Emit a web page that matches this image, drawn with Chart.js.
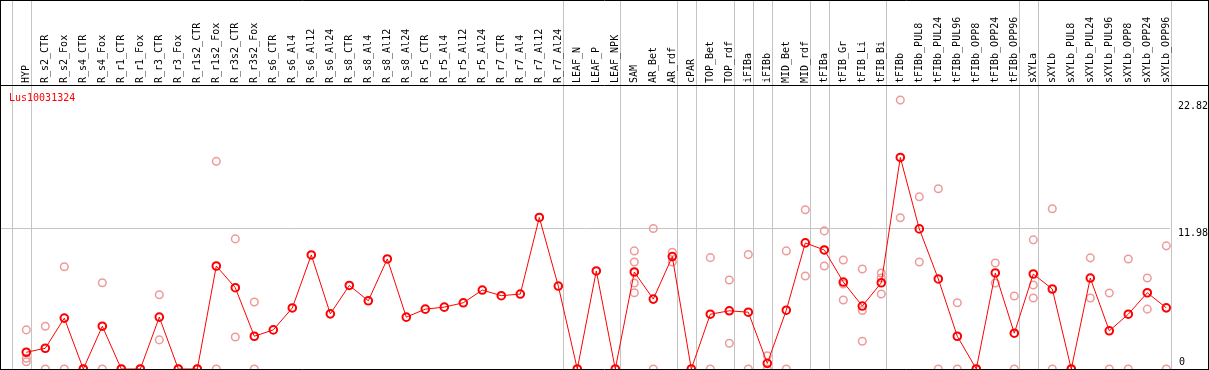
<!DOCTYPE html>
<html>
<head>
<meta charset="utf-8">
<title>Lus10031324</title>
<script src="https://cdn.jsdelivr.net/npm/chart.js@4.4.1/dist/chart.umd.min.js"></script>
<style>
    html, body { margin: 0; padding: 0; background: #fff; }
    #wrap { width: 1209px; height: 370px; }
</style>
</head>
<body>
<div id="wrap"><canvas id="exprChart" width="1209" height="370"></canvas></div>
<script>
// ── Data ─────────────────────────────────────────────────────
const TITLE = 'Lus10031324';

const samples = [
    'HYP','R_s2_CTR','R_s2_Fox','R_s4_CTR','R_s4_Fox','R_r1_CTR','R_r1_Fox','R_r3_CTR','R_r3_Fox',
    'R_r1s2_CTR','R_r1s2_Fox','R_r3s2_CTR','R_r3s2_Fox','R_s6_CTR','R_s6_Al4','R_s6_Al12','R_s6_Al24',
    'R_s8_CTR','R_s8_Al4','R_s8_Al12','R_s8_Al24','R_r5_CTR','R_r5_Al4','R_r5_Al12','R_r5_Al24',
    'R_r7_CTR','R_r7_Al4','R_r7_Al12','R_r7_Al24','LEAF_N','LEAF_P','LEAF_NPK','SAM','AR_Bet','AR_rdf',
    'cPAR','TOP_Bet','TOP_rdf','iFIBa','iFIBb','MID_Bet','MID_rdf','tFIBa','tFIB_Gr','tFIB_Li','tFIB_Bi',
    'tFIBb','tFIBb_PUL8','tFIBb_PUL24','tFIBb_PUL96','tFIBb_OPP8','tFIBb_OPP24','tFIBb_OPP96',
    'sXYLa','sXYLb','sXYLb_PUL8','sXYLb_PUL24','sXYLb_PUL96','sXYLb_OPP8','sXYLb_OPP24','sXYLb_OPP96'
];

// mean expression per sample (red line)
const means = [
    1.42, 1.76, 4.32, 0, 3.63, 0, 0, 4.40, 0,
    0, 8.74, 6.90, 2.78, 3.32, 5.18, 9.68, 4.68,
    7.09, 5.79, 9.34, 4.40, 5.08, 5.25, 5.62, 6.70,
    6.22, 6.36, 12.86, 7.04, 0, 8.32, 0, 8.23, 5.93, 9.54,
    0, 4.65, 4.94, 4.82, 0.48, 4.99, 10.70, 10.10, 7.38, 5.34, 7.32,
    17.95, 11.89, 7.64, 2.78, 0, 8.15, 3.04,
    8.06, 6.79, 0, 7.72, 3.24, 4.65, 6.47, 5.19
];

// single replicates per sample (faint circles)
const replicates = [
    [3.32, 0.91, 0.62], [3.63, 0], [8.68, 0], [0, 0], [7.32, 0], [0, 0], [0, 0], [6.30, 2.47], [0, 0],
    [0, 0], [17.62, 0], [11.04, 2.72], [5.68, 0], [], [], [], [],
    [], [], [], [], [], [], [], [],
    [], [], [], [], [], [], [], [10.02, 9.08, 7.30, 6.47], [11.92, 0], [9.90, 9.08],
    [], [9.45, 0], [7.55, 2.19], [9.71, 0], [1.13, 0], [10.02, 0], [13.51, 7.89], [11.72, 10.10, 8.74],
    [9.25, 7.21, 5.85], [8.49, 4.96, 2.36], [8.15, 7.72, 6.36],
    [22.82, 12.83], [14.62, 9.08], [15.30, 0], [5.62, 0], [0, 0], [9.00, 7.30], [6.19, 0],
    [10.96, 7.13, 6.02], [13.60, 0], [0, 0], [9.43, 6.02], [6.45, 0], [9.34, 0], [7.72, 5.08], [10.45, 0]
];

// group separators: drawn just right of these sample indices
const separatorsAfter = [-1, 0, 28, 31, 34, 35, 37, 38, 39, 41, 42, 45, 52, 53, 60];

// value axis labels on the right
const yTicks    = [22.82, 11.98, 0];
const yGridline = [11.98];

// ── Style ────────────────────────────────────────────────────
const RED   = '#ff0000';
const PINK  = '#ee9a9a';
const GRID  = '#c4c4c4';
const FONT  = '10px "DejaVu Sans Mono", "Liberation Mono", monospace';
const HEADER_BOTTOM = 85;

// ── Build points ─────────────────────────────────────────────
const meanPoints = means.map((v, i) => ({ x: i, y: v }));
const repPoints  = [];
replicates.forEach(function (list, i) {
    list.forEach(v => repPoints.push({ x: i, y: v }));
});

// ── Frame, header labels, separators ─────────────────────────
const framePlugin = {
    id: 'frame',
    beforeDatasetsDraw(chart) {
        const ctx = chart.ctx;
        const xs = chart.scales.x, ys = chart.scales.y;
        const area = chart.chartArea;
        ctx.save();
        ctx.strokeStyle = GRID;
        ctx.lineWidth = 1;

        // vertical separators run through the header too
        separatorsAfter.forEach(function (i) {
            const px = Math.round(xs.getPixelForValue(i + 0.23)) + 0.5;
            ctx.beginPath();
            ctx.moveTo(px, 0);
            ctx.lineTo(px, area.bottom);
            ctx.stroke();
        });

        yGridline.forEach(function (v) {
            const py = Math.round(ys.getPixelForValue(v)) + 0.5;
            ctx.beginPath();
            ctx.moveTo(area.left, py);
            ctx.lineTo(area.right, py);
            ctx.stroke();
        });
        ctx.restore();
    },
    afterDraw(chart) {
        const ctx = chart.ctx;
        const xs = chart.scales.x, ys = chart.scales.y;
        const area = chart.chartArea;
        const W = chart.width;
        ctx.save();

        // black frame + header rule
        ctx.strokeStyle = '#000';
        ctx.lineWidth = 1;
        ctx.beginPath();
        ctx.moveTo(0, 0.5);                 ctx.lineTo(W, 0.5);
        ctx.moveTo(0, HEADER_BOTTOM + 0.5); ctx.lineTo(W, HEADER_BOTTOM + 0.5);
        ctx.moveTo(0, area.bottom + 0.5);   ctx.lineTo(W, area.bottom + 0.5);
        ctx.moveTo(0.5, 0);                 ctx.lineTo(0.5, chart.height);
        ctx.moveTo(W - 0.5, 0);             ctx.lineTo(W - 0.5, chart.height);
        ctx.stroke();

        // rotated sample names
        ctx.font = FONT;
        ctx.fillStyle = '#000';
        ctx.textAlign = 'left';
        ctx.textBaseline = 'middle';
        samples.forEach(function (name, i) {
            ctx.save();
            ctx.translate(xs.getPixelForValue(i), HEADER_BOTTOM - 2);
            ctx.rotate(-Math.PI / 2);
            ctx.fillText(name, 0, 0);
            ctx.restore();
        });

        // title
        ctx.fillStyle = RED;
        ctx.textBaseline = 'top';
        ctx.fillText(TITLE, 9, 93);

        // value labels at right
        ctx.fillStyle = '#000';
        yTicks.forEach(function (v) {
            const py = ys.getPixelForValue(v);
            if (v === 0) {
                ctx.textBaseline = 'bottom';
                ctx.fillText(String(v), 1179, py - 2);
            } else {
                ctx.textBaseline = 'top';
                ctx.fillText(v.toFixed(2), 1178, py + 1);
            }
        });
        ctx.restore();
    }
};

// ── Chart ────────────────────────────────────────────────────
new Chart(document.getElementById('exprChart'), {
    type: 'line',
    data: {
        datasets: [
            {
                label: 'mean',
                data: meanPoints,
                borderColor: RED,
                borderWidth: 1,
                pointStyle: 'circle',
                pointRadius: 3.8,
                pointBorderWidth: 2,
                pointBorderColor: RED,
                pointBackgroundColor: 'rgba(0,0,0,0)',
                tension: 0,
                clip: false
            },
            {
                label: 'replicates',
                data: repPoints,
                showLine: false,
                pointStyle: 'circle',
                pointRadius: 3.8,
                pointBorderWidth: 1.5,
                pointBorderColor: PINK,
                pointBackgroundColor: 'rgba(0,0,0,0)',
                clip: false
            }
        ]
    },
    options: {
        responsive: false,
        animation: false,
        devicePixelRatio: 1,
        layout: {
            autoPadding: false,
            padding: { left: 1, right: 39, top: HEADER_BOTTOM, bottom: 1 }
        },
        plugins: {
            legend: { display: false },
            tooltip: { enabled: false }
        },
        scales: {
            x: { type: 'linear', display: false, min: -1.332, max: 60.195 },
            y: { type: 'linear', display: false, min: 0, max: 24.1 }
        }
    },
    plugins: [framePlugin]
});
</script>
</body>
</html>
